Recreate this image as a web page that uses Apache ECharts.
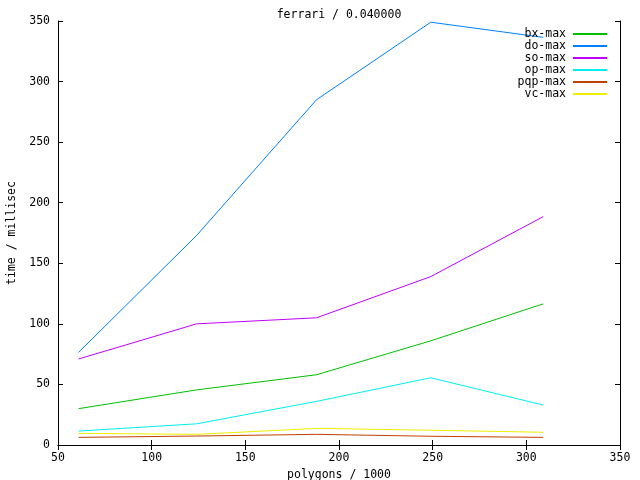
<!DOCTYPE html>
<html><head><meta charset="utf-8">
<script src="https://cdn.jsdelivr.net/npm/echarts@6/dist/echarts.min.js"></script>
<style>html,body{margin:0;padding:0;background:#fff}#c{width:640px;height:480px}</style>
</head><body><div id="c"></div>
<script>
const xValues = [61, 124, 188, 249, 309];
const seriesNames = ['bx-max', 'do-max', 'so-max', 'op-max', 'pqp-max', 'vc-max'];
const bxMax  = [30, 45.5, 58, 86, 116.5];
const doMax  = [76.5, 173, 285, 349, 336.5];
const soMax  = [71, 100, 105, 139, 188.5];
const opMax  = [11.5, 17.5, 36, 55.5, 33];
const pqpMax = [6.3, 7.4, 8.8, 7.2, 6.3];
const vcMax  = [9.6, 8.8, 13.7, 12.2, 10.5];
const seriesColors = ['#00c000', '#0080ff', '#c000ff', '#00eeee', '#c04000', '#eeee00'];
const titleText = 'ferrari / 0.040000';
const xName = 'polygons / 1000';
const yName = 'time / millisec';

const allValues = [bxMax, doMax, soMax, opMax, pqpMax, vcMax];
const font = 'DejaVu Sans Mono';
const fs = 11.5;

const chart = echarts.init(document.getElementById('c'), null, {renderer: 'canvas'});
const axisCommon = {
  axisLine: {show: true, lineStyle: {color: '#000', width: 1}},
  axisTick: {show: true, inside: true, length: 5, lineStyle: {color: '#000'}},
  splitLine: {show: false}
};
chart.setOption({
  animation: false,
  backgroundColor: '#fff',
  title: {text: titleText, left: 334, top: 4, textAlign: 'center',
    textStyle: {fontFamily: font, fontSize: fs, fontWeight: 'normal', color: '#000'}},
  grid: {left: 58, right: 20, top: 21, bottom: 35, containLabel: false, outerBoundsMode: 'none'},
  legend: {
    orient: 'vertical', right: 28, top: 23, align: 'right',
    itemWidth: 34, itemHeight: 2, itemGap: 0, icon: 'rect',
    textStyle: {fontFamily: font, fontSize: fs, color: '#000', lineHeight: 12, padding: [0, 2, 0, 0]},
    data: seriesNames
  },
  xAxis: [
    Object.assign({type: 'value', min: 50, max: 350, interval: 50, position: 'bottom',
      name: xName, nameLocation: 'middle', nameGap: 23,
      nameTextStyle: {fontFamily: font, fontSize: fs, color: '#000'},
      axisLabel: {fontFamily: font, fontSize: fs, color: '#000', margin: 7}}, axisCommon),
    Object.assign({type: 'value', min: 50, max: 350, interval: 50, position: 'top',
      axisLabel: {show: false}}, axisCommon)
  ],
  yAxis: [
    Object.assign({type: 'value', min: 0, max: 350, interval: 50, position: 'left',
      name: yName, nameLocation: 'middle', nameGap: 40, nameRotate: 90,
      nameTextStyle: {fontFamily: font, fontSize: fs, color: '#000'},
      axisLabel: {fontFamily: font, fontSize: fs, color: '#000', margin: 8}}, axisCommon),
    Object.assign({type: 'value', min: 0, max: 350, interval: 50, position: 'right',
      axisLabel: {show: false}}, axisCommon)
  ],
  series: seriesNames.map((n, i) => ({
    name: n, type: 'line', xAxisIndex: 0, yAxisIndex: 0,
    data: xValues.map((x, j) => [x, allValues[i][j]]),
    showSymbol: false, symbol: 'none',
    lineStyle: {color: seriesColors[i], width: 1},
    itemStyle: {color: seriesColors[i]}
  }))
});
</script></body></html>
